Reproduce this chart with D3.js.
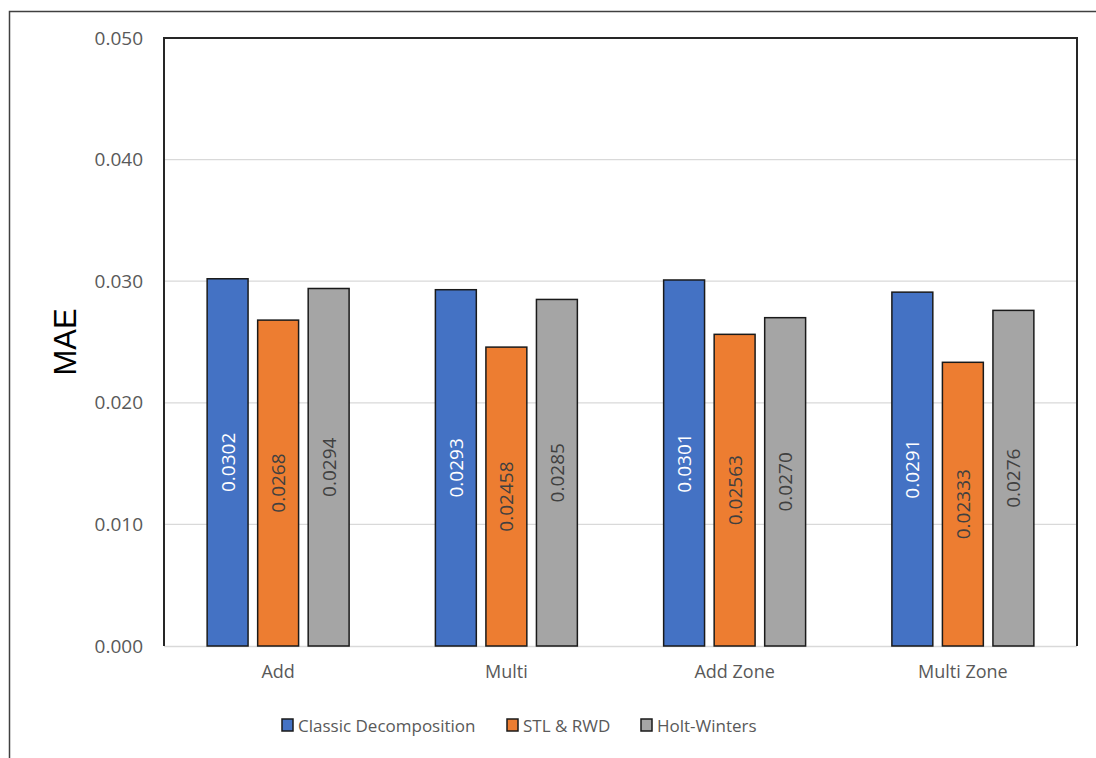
<!DOCTYPE html>
<html><head><meta charset="utf-8">
<script src="https://cdn.jsdelivr.net/npm/d3@7"></script>
<style>body{margin:0;background:#fff;} text{font-family:"Open Sans","Liberation Sans",sans-serif;}</style>
</head><body><svg id="c" width="1096" height="758"></svg>
<script>
const categories = ["Add", "Multi", "Add Zone", "Multi Zone"];
const seriesNames = ["Classic Decomposition", "STL & RWD", "Holt-Winters"];
const classicDecomposition = [0.0302, 0.0293, 0.0301, 0.0291];
const stlRwd = [0.0268, 0.02458, 0.02563, 0.02333];
const holtWinters = [0.0294, 0.0285, 0.0270, 0.0276];
const classicLabels = ["0.0302", "0.0293", "0.0301", "0.0291"];
const stlLabels = ["0.0268", "0.02458", "0.02563", "0.02333"];
const holtLabels = ["0.0294", "0.0285", "0.0270", "0.0276"];
const yTicks = [0, 0.01, 0.02, 0.03, 0.04, 0.05];
const colors = ["#4472C4", "#ED7D31", "#A5A5A5"];
const labelColors = ["#ffffff", "#404040", "#404040"];

const values = [classicDecomposition, stlRwd, holtWinters];
const labels = [classicLabels, stlLabels, holtLabels];

const svg = d3.select("#c");
const L = 164, R = 1077, T = 38, B = 646;

// outer frame
svg.append("rect").attr("x", 9.5).attr("y", 11.5).attr("width", 1200).attr("height", 1000)
  .attr("fill", "none").attr("stroke", "#404040").attr("stroke-width", 1.5);

const x0 = d3.scaleBand().domain(categories).range([L, R]).paddingInner(0.378).paddingOuter(0.189);
const x1 = d3.scaleBand().domain(seriesNames).range([0, x0.bandwidth()]).paddingInner(0.19).paddingOuter(0);
const y = d3.scaleLinear().domain([0, 0.05]).range([B, T]);

// gridlines
svg.append("g").selectAll("line").data(yTicks.slice(1, -1)).join("line")
  .attr("x1", L).attr("x2", R).attr("y1", d => y(d)).attr("y2", d => y(d))
  .attr("stroke", "#d9d9d9").attr("stroke-width", 1.2);

// y axis labels
const yAxis = d3.axisLeft(y).tickValues(yTicks).tickFormat(d3.format(".3f")).tickSize(0).tickPadding(21);
const gy = svg.append("g").attr("transform", `translate(${L},0)`).call(yAxis);
gy.select(".domain").remove();
gy.selectAll("text").attr("fill", "#595959").style("font-size", "19px")
  .style("font-family", "'Open Sans','Liberation Sans',sans-serif");

// bottom axis line
svg.append("line").attr("x1", L).attr("x2", R).attr("y1", B + 0.5).attr("y2", B + 0.5)
  .attr("stroke", "#d9d9d9").attr("stroke-width", 1.5);

// x axis labels
const xAxis = d3.axisBottom(x0).tickSize(0).tickPadding(19);
const gx = svg.append("g").attr("transform", `translate(0,${B})`).call(xAxis);
gx.select(".domain").remove();
gx.selectAll("text").attr("fill", "#595959").style("font-size", "18px")
  .style("font-family", "'Open Sans','Liberation Sans',sans-serif");

// bars
const rows = [];
categories.forEach((c, i) => seriesNames.forEach((s, j) => rows.push({c, s, j, v: values[j][i], lab: labels[j][i]})));
const g = svg.append("g");
g.selectAll("rect").data(rows).join("rect")
  .attr("x", d => x0(d.c) + x1(d.s)).attr("y", d => y(d.v))
  .attr("width", x1.bandwidth()).attr("height", d => y(0) - y(d.v))
  .attr("fill", d => colors[d.j]).attr("stroke", "#1a1a1a").attr("stroke-width", 1.5);

g.selectAll("text").data(rows).join("text")
  .attr("transform", d => `translate(${x0(d.c) + x1(d.s) + x1.bandwidth() / 2 + 7},${(y(d.v) + y(0)) / 2}) rotate(-90)`)
  .attr("text-anchor", "middle").attr("fill", d => labelColors[d.j])
  .style("font-size", "19px").text(d => d.lab);

// plot frame (left, top, right)
svg.append("path").attr("d", `M${L},${B} V${T} H${R} V${B}`).attr("fill", "none")
  .attr("stroke", "#262626").attr("stroke-width", 2);

// y title
svg.append("text").attr("transform", `translate(76,342) rotate(-90)`)
  .attr("text-anchor", "middle").attr("fill", "#000")
  .style("font-family", "'Liberation Sans',Arial,sans-serif").style("font-size", "31px").text("MAE");

// legend
const legX = [282, 507, 641];
const lg = svg.append("g");
seriesNames.forEach((s, j) => {
  lg.append("rect").attr("x", legX[j]).attr("y", 719).attr("width", 11).attr("height", 12)
    .attr("fill", colors[j]).attr("stroke", "#1a1a1a").attr("stroke-width", 1.5);
  lg.append("text").attr("x", legX[j] + 16).attr("y", 732).attr("fill", "#595959")
    .style("font-size", "17px").text(s);
});
</script></body></html>
